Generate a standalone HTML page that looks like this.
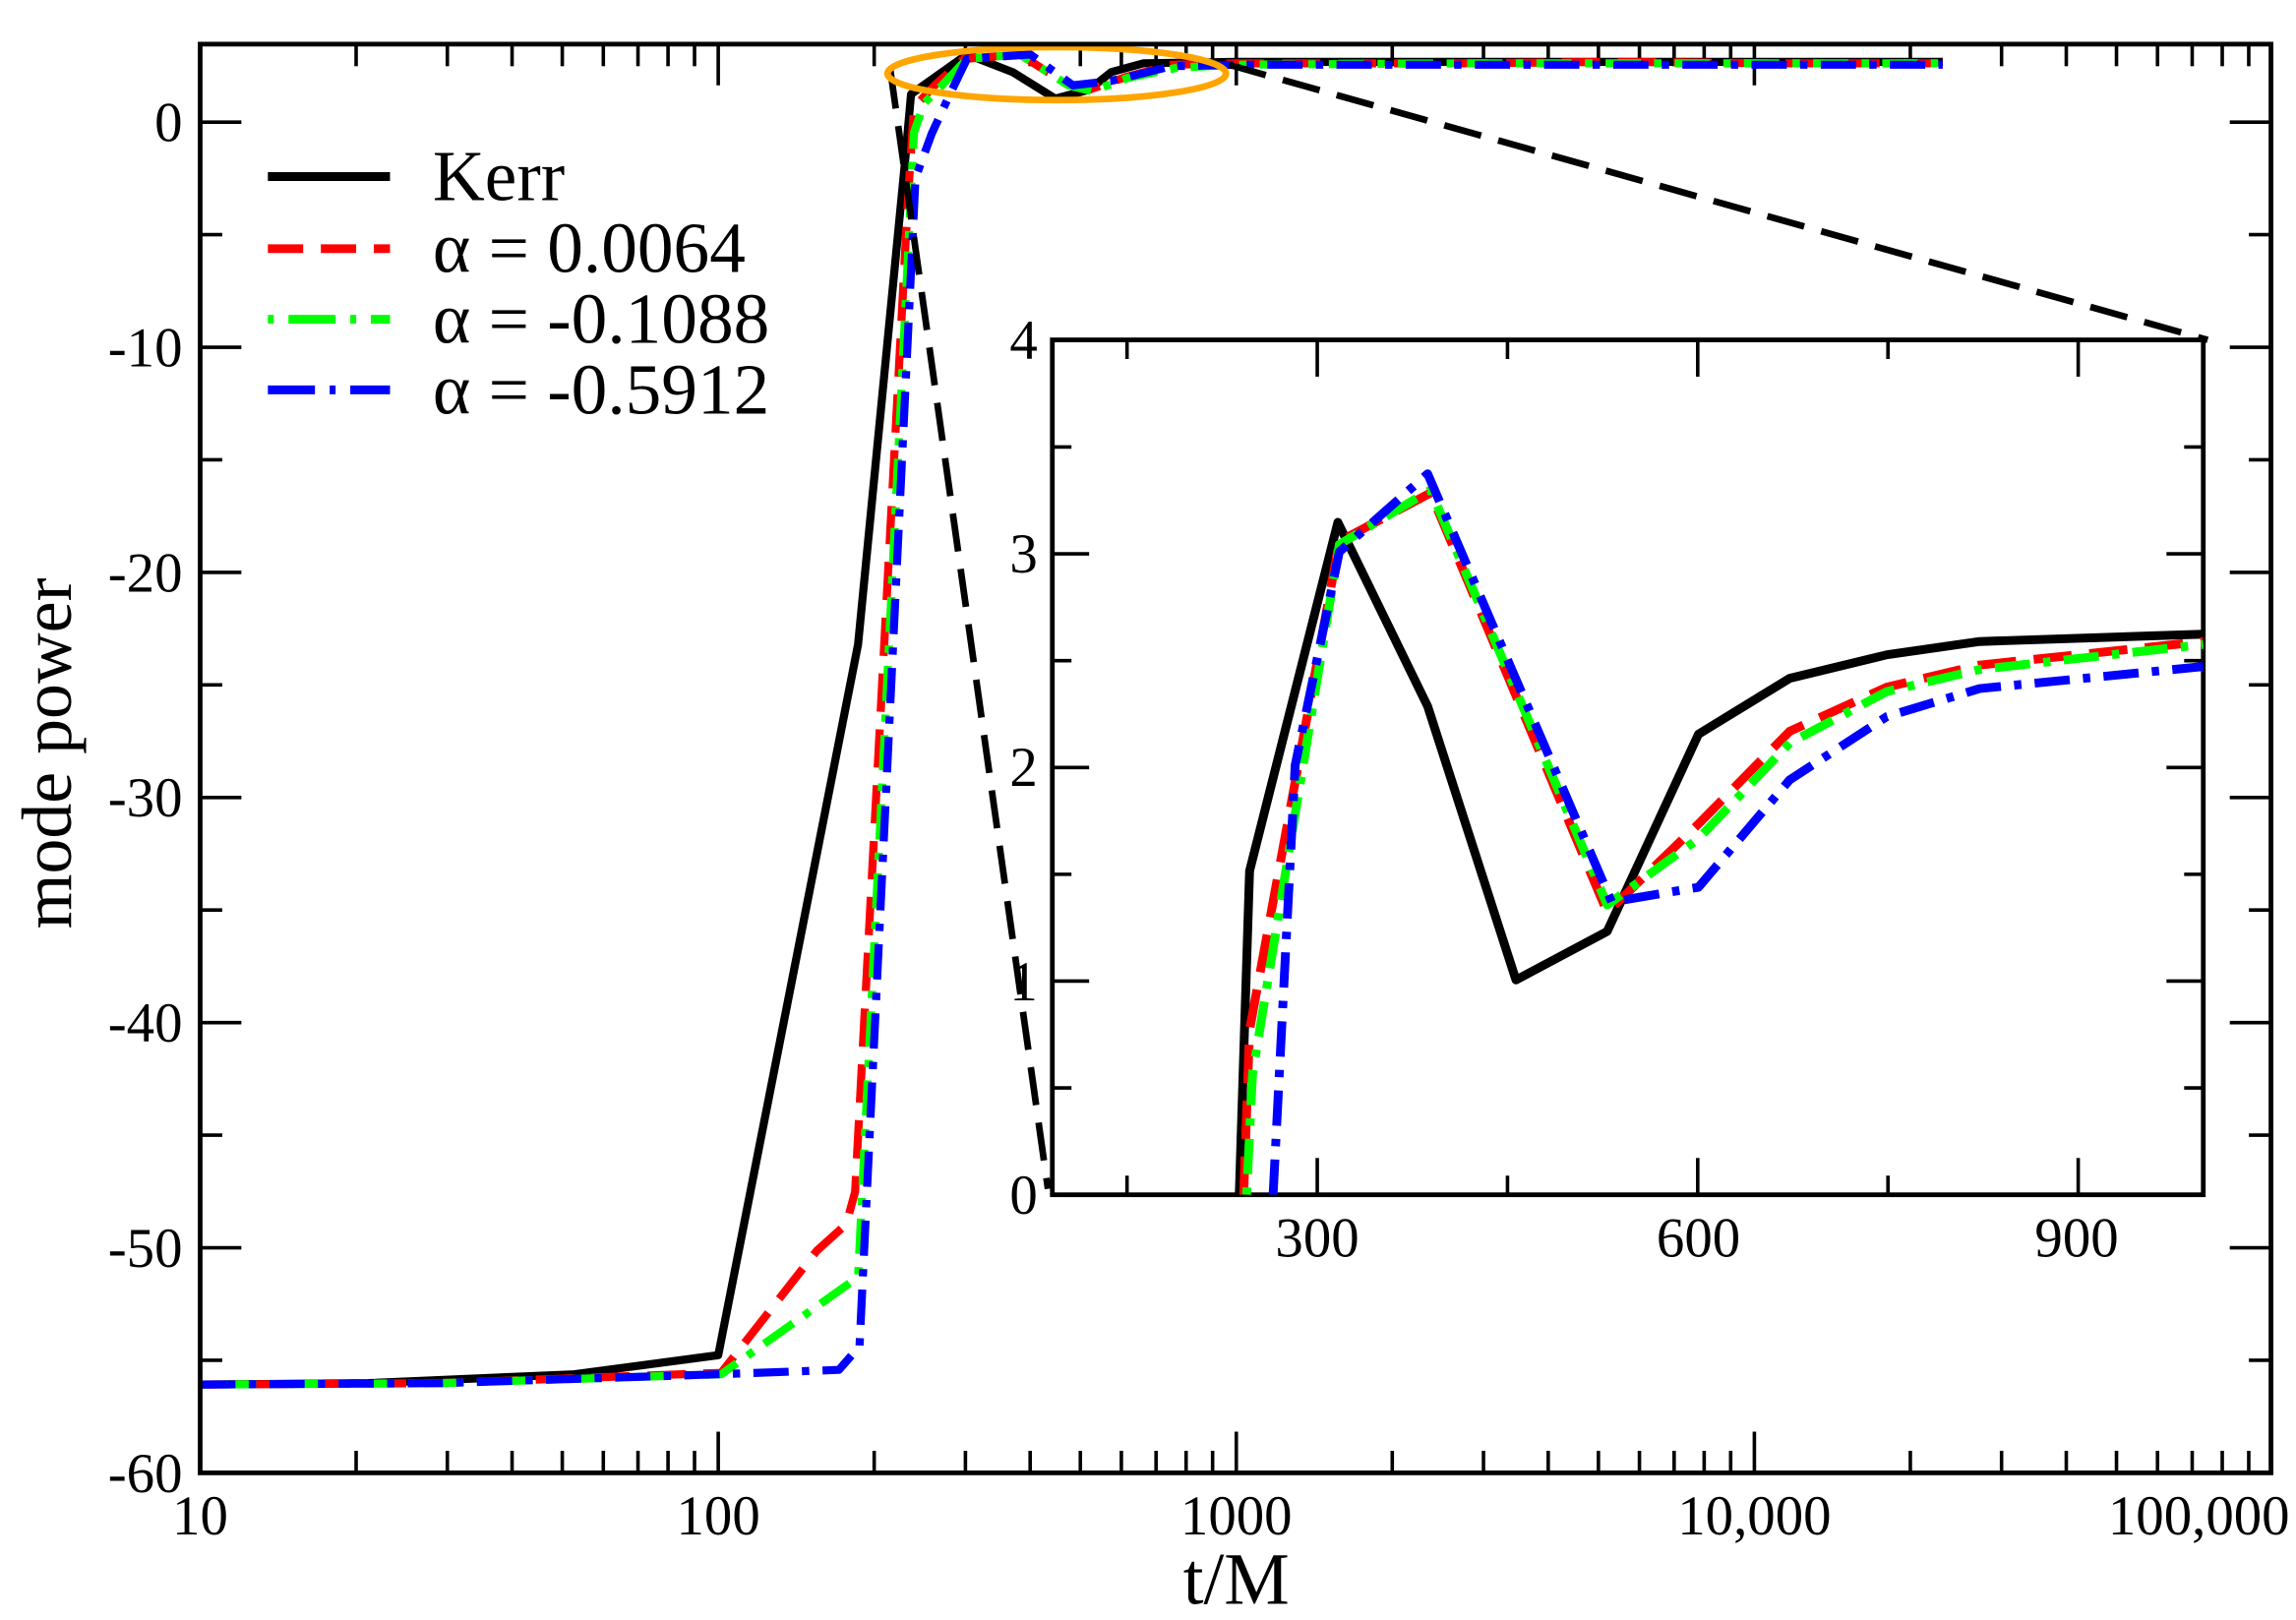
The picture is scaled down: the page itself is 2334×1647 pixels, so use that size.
<!DOCTYPE html>
<html><head><meta charset="utf-8"><style>
html,body{margin:0;padding:0;background:#fff;}
svg{display:block;}
text{font-family:"Liberation Serif",serif;fill:#000;}
</style></head><body>
<svg width="2334" height="1647" viewBox="0 0 1560 1101" preserveAspectRatio="none" xmlns="http://www.w3.org/2000/svg">
<defs>
<clipPath id="mc"><rect x="136" y="30" width="1407" height="971"/></clipPath>
<clipPath id="ic"><rect x="715" y="231" width="782" height="581"/></clipPath>
</defs>
<rect width="1560" height="1101" fill="#fff"/>
<g id="ticks" stroke="#000" stroke-width="2.4"></g>
<g clip-path="url(#mc)" fill="none" stroke-linejoin="round">
<polyline stroke="#000" stroke-width="5.5" points="136,941 250,940 390,934 488,921 583,438 615,109 619,64 657,37 688,49 717,67 740,61 755,49 777,43 840,42 1320,42"/>
<polyline stroke="#f00" stroke-width="5.5" stroke-dasharray="26,12" points="136,941 300,940 490,933 555,850 575,832 581,810 617,133 621,73 635,58 655,40 693,37 726,58 740,61 766,52 796,44 840,43 1000,43 1100,42 1200,43 1320,43"/>
<polyline stroke="#0f0" stroke-width="5.5" stroke-dasharray="5,9,24,9" points="136,941 300,940 490,934 583,868 621,90 628,70 640,58 657,40 693,37 726,58 742,62 766,53 800,46 840,44 1000,43 1150,43 1320,43"/>
<polyline stroke="#00f" stroke-width="5.5" stroke-dasharray="24,9,5,9" points="136,941 300,940 488,934 570,931 584,915 622,121 633,91 644,67 657,40 700,37 729,58 755,55 796,45 840,44 1000,44 1320,44"/>
<line x1="605" y1="48" x2="712" y2="808" stroke="#000" stroke-width="4.5" stroke-dasharray="26,12"/>
<line x1="835" y1="44" x2="1500" y2="231" stroke="#000" stroke-width="4.5" stroke-dasharray="26,12"/>
<ellipse cx="718" cy="50" rx="115" ry="18" stroke="#ffa500" stroke-width="4.5"/>
</g>
<rect x="136" y="30" width="1407" height="971" fill="none" stroke="#000" stroke-width="3.2"/>
<rect x="715" y="231" width="782" height="581" fill="#fff" stroke="#000" stroke-width="3.2"/>
<g id="iticks" stroke="#000" stroke-width="2.4"></g>
<g clip-path="url(#ic)" fill="none" stroke-linejoin="round">
<polyline stroke="#000" stroke-width="6" points="842,812 849,592 909,355 970,480 1030,666 1092,633 1154,499 1216,461 1282,445 1345,436 1497,431"/>
<polyline stroke="#f00" stroke-width="6" stroke-dasharray="26,12" points="845,812 849,700 910,368 972,335 1092,620 1154,560 1216,497 1282,467 1345,452 1497,436"/>
<polyline stroke="#0f0" stroke-width="6" stroke-dasharray="5,9,24,9" points="847,812 851,730 910,370 972,333 1092,615 1154,570 1216,505 1282,470 1345,455 1497,438"/>
<polyline stroke="#00f" stroke-width="6" stroke-dasharray="24,9,5,9" points="865,812 880,520 910,375 970,322 1095,613 1154,603 1216,530 1282,487 1345,468 1497,453"/>
</g>
<g stroke-width="6">
<line x1="182" y1="120" x2="265" y2="120" stroke="#000"/>
<line x1="182" y1="169" x2="265" y2="169" stroke="#f00" stroke-dasharray="24,12"/>
<line x1="182" y1="217" x2="265" y2="217" stroke="#0f0" stroke-dasharray="4,10,32,10"/>
<line x1="182" y1="265" x2="265" y2="265" stroke="#00f" stroke-dasharray="32,10,4,10"/>
</g>
<g font-size="49">
<text x="294" y="136">Kerr</text>
<text x="294" y="185">α = 0.0064</text>
<text x="294" y="233">α = -0.1088</text>
<text x="294" y="281">α = -0.5912</text>
</g>
<g font-size="38" text-anchor="end" id="ylab"></g>
<g font-size="38" text-anchor="middle">
<text x="136" y="1043">10</text><text x="488" y="1043">100</text><text x="840" y="1043">1000</text><text x="1192" y="1043">10,000</text><text x="1494" y="1043">100,000</text>
<text x="895" y="854">300</text><text x="1154" y="854">600</text><text x="1411" y="854">900</text>
</g>
<g font-size="38" text-anchor="end">
<text x="705" y="825">0</text><text x="705" y="680">1</text><text x="705" y="534">2</text><text x="705" y="389">3</text><text x="705" y="244">4</text>
</g>
<text x="840" y="1090" font-size="50" text-anchor="middle">t/M</text>
<text transform="translate(48,512) rotate(-90)" font-size="48" text-anchor="middle">mode power</text>
<script>
(function(){
var ns="http://www.w3.org/2000/svg";
function L(g,x1,y1,x2,y2){var l=document.createElementNS(ns,"line");l.setAttribute("x1",x1);l.setAttribute("y1",y1);l.setAttribute("x2",x2);l.setAttribute("y2",y2);g.appendChild(l);}
var g=document.getElementById("ticks");
for(var v=0;v>=-60;v-=5){var y=83-v*15.3;var len=(v%10==0)?28:15;L(g,136,y,136+len,y);L(g,1543,y,1543-len,y);}
for(var d=1;d<=4;d++){for(var m=1;m<10;m++){var x=136+352*(d-1)+352*Math.log10(m);if(x>1543)continue;var len=(m==1)?28:15;L(g,x,1001,x,1001-len);L(g,x,30,x,30+len);}}
var yl=document.getElementById("ylab");
for(var v=0;v>=-60;v-=10){var t=document.createElementNS(ns,"text");t.setAttribute("x",124);t.setAttribute("y",83-v*15.3+13);t.textContent=v;yl.appendChild(t);}
var ig=document.getElementById("iticks");
for(var k=0;k<=8;k++){var y=812-k*72.6;var len=(k%2==0)?25:13;L(ig,715,y,715+len,y);L(ig,1497,y,1497-len,y);}
for(var t2=150;t2<=1000;t2+=150){var x=895+(t2-300)*0.8617;var len=(t2%300==0)?25:13;L(ig,x,812,x,812-len);L(ig,x,231,x,231+len);}
})();
</script>
</svg>
</body></html>
